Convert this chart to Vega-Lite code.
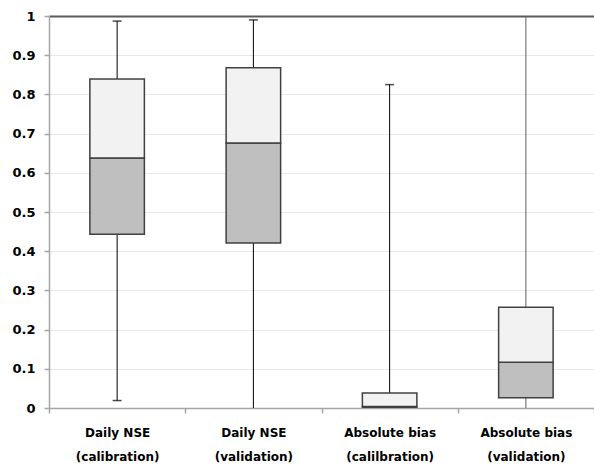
{
  "$schema": "https://vega.github.io/schema/vega-lite/v6.json",
  "autosize": "none",
  "width": 545,
  "height": 392,
  "padding": {"left": 49, "top": 16, "right": 0, "bottom": 58},
  "background": "white",
  "config": {
    "view": {"stroke": null},
    "axisY": {
      "labelFont": "DejaVu Sans", "labelFontWeight": "bold", "labelFontSize": 13,
      "labelColor": "#000000", "labelPadding": 9,
      "tickSize": 5, "tickColor": "#A6A6A6", "tickWidth": 1.5,
      "domainColor": "#A6A6A6", "domainWidth": 1.5, "title": null,
      "gridColor": "#E8E8E8", "gridWidth": 1
    }
  },
  "data": {"values": [
    {"cat": "Daily NSE|(calibration)", "min": 0.019, "q1": 0.443, "med": 0.638, "q3": 0.839, "max": 0.987},
    {"cat": "Daily NSE|(validation)", "min": 0, "q1": 0.421, "med": 0.676, "q3": 0.868, "max": 0.99},
    {"cat": "Absolute bias|(calilbration)", "min": 0, "q1": 0.002, "med": 0.004, "q3": 0.038, "max": 0.825},
    {"cat": "Absolute bias|(validation)", "min": 0, "q1": 0.026, "med": 0.117, "q3": 0.257, "max": 1}
  ]},
  "encoding": {
    "x": {
      "field": "cat", "type": "nominal", "sort": null, "title": null,
      "scale": {"paddingInner": 0, "paddingOuter": 0},
      "axis": {
        "labelAngle": 0,
        "labelExpr": "split(datum.label, '|')",
        "labelFont": "DejaVu Sans", "labelFontWeight": "bold", "labelFontSize": 12,
        "labelColor": "#000000", "labelLineHeight": 24, "labelPadding": 14,
        "tickBand": "extent", "tickSize": 5, "tickColor": "#A6A6A6", "tickWidth": 1.5,
        "domainColor": "#A6A6A6", "domainWidth": 1.5, "grid": false
      }
    }
  },
  "layer": [
    {
      "mark": {"type": "rule", "color": "#000000", "strokeWidth": 1},
      "encoding": {
        "y": {"field": "min", "type": "quantitative", "title": null,
          "scale": {"domain": [0, 1], "nice": false},
          "axis": {"tickCount": 10, "labelOverlap": false, "labelExpr": "format(datum.value, '~g')",
            "gridColor": {"condition": {"test": "datum.value >= 0.999", "value": "#595959"}, "value": "#E8E8E8"},
            "gridWidth": {"condition": {"test": "datum.value >= 0.999", "value": 2}, "value": 1}}},
        "y2": {"field": "max"},
        "color": {
          "condition": {"test": "datum.cat === 'Absolute bias|(validation)'", "value": "#5F5F5F"},
          "value": "#000000"
        },
        "strokeWidth": {
          "condition": {"test": "datum.cat === 'Absolute bias|(validation)'", "value": 2},
          "value": 1
        }
      }
    },
    {
      "transform": [{"filter": "datum.max < 1"}],
      "mark": {"type": "tick", "color": "#000000", "size": 9, "thickness": 1.5},
      "encoding": {"y": {"field": "max", "type": "quantitative"}}
    },
    {
      "transform": [{"filter": "datum.min > 0"}],
      "mark": {"type": "tick", "color": "#000000", "size": 9, "thickness": 1.5},
      "encoding": {"y": {"field": "min", "type": "quantitative"}}
    },
    {
      "mark": {"type": "bar", "width": {"band": 0.4}, "fill": "#BFBFBF", "stroke": "#404040", "strokeWidth": 1.5},
      "encoding": {"y": {"field": "q1", "type": "quantitative"}, "y2": {"field": "med"}}
    },
    {
      "mark": {"type": "bar", "width": {"band": 0.4}, "fill": "#F2F2F2", "stroke": "#404040", "strokeWidth": 1.5},
      "encoding": {"y": {"field": "med", "type": "quantitative"}, "y2": {"field": "q3"}}
    }
  ]
}
